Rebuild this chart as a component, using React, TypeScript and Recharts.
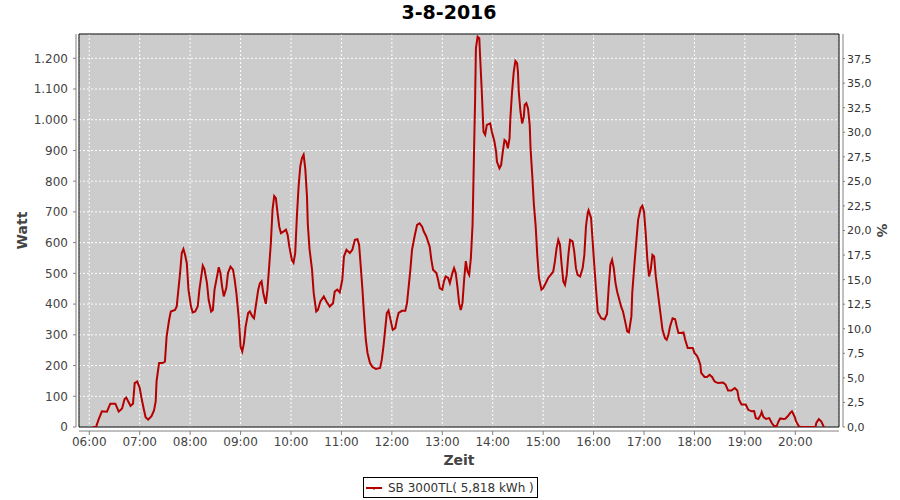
import React from 'react';
import { LineChart, Line, XAxis, YAxis, CartesianGrid, ReferenceArea } from 'recharts';

const title = '3-8-2016';
const seriesName = 'SB 3000TL( 5,818 kWh )';
const xTitle = 'Zeit';
const yLeftTitle = 'Watt';
const yRightTitle = '%';

const hourLabels = ['06:00', '07:00', '08:00', '09:00', '10:00', '11:00', '12:00', '13:00', '14:00', '15:00', '16:00', '17:00', '18:00', '19:00', '20:00'];
const leftTicks = [0, 100, 200, 300, 400, 500, 600, 700, 800, 900, 1000, 1100, 1200];
const rightTicks = [0, 2.5, 5, 7.5, 10, 12.5, 15, 17.5, 20, 22.5, 25, 27.5, 30, 32.5, 35, 37.5];

const times = [
  '06:04', '06:08', '06:11', '06:15', '06:21', '06:25', '06:31', '06:35', '06:39', '06:42', '06:44', '06:49', '06:52', '06:54', '06:57',
  '07:00', '07:02', '07:05', '07:07', '07:10', '07:14', '07:17', '07:19', '07:20', '07:23', '07:27', '07:30', '07:32', '07:35', '07:37',
  '07:42', '07:44', '07:46', '07:48', '07:50', '07:52', '07:54', '07:56', '07:58',
  '08:01', '08:03', '08:06', '08:09', '08:11', '08:13', '08:15', '08:17', '08:20', '08:22', '08:25', '08:27', '08:29', '08:32', '08:34',
  '08:36', '08:38', '08:40', '08:43', '08:45', '08:48', '08:51', '08:53', '08:55', '08:58',
  '09:00', '09:02', '09:04', '09:06', '09:09', '09:11', '09:14', '09:16', '09:18', '09:21', '09:23', '09:25', '09:27', '09:30', '09:32',
  '09:34', '09:36', '09:38', '09:40', '09:42', '09:44', '09:46', '09:48', '09:51', '09:54', '09:56', '09:58',
  '10:01', '10:03', '10:05', '10:07', '10:09', '10:11', '10:13', '10:15', '10:17', '10:19', '10:20', '10:22', '10:25', '10:27', '10:30',
  '10:32', '10:35', '10:39', '10:42', '10:46', '10:50', '10:52', '10:55', '10:58',
  '11:01', '11:03', '11:06', '11:10', '11:13', '11:16', '11:19', '11:21', '11:23', '11:25', '11:27', '11:29', '11:31', '11:34', '11:37',
  '11:41', '11:46', '11:48', '11:50', '11:52', '11:54', '11:56', '11:58',
  '12:01', '12:04', '12:06', '12:08', '12:12', '12:16', '12:18', '12:20', '12:22', '12:24', '12:27', '12:30', '12:33', '12:36', '12:38',
  '12:41', '12:45', '12:47', '12:49', '12:53', '12:55', '12:57',
  '13:00', '13:02', '13:04', '13:07', '13:09', '13:12', '13:14', '13:16', '13:18', '13:20', '13:22', '13:24', '13:26', '13:28', '13:30',
  '13:32', '13:34', '13:36', '13:37', '13:38', '13:39', '13:40', '13:42', '13:44', '13:45', '13:47', '13:48', '13:49', '13:51', '13:53',
  '13:57', '13:59',
  '14:02', '14:04', '14:05', '14:08', '14:10', '14:12', '14:14', '14:16', '14:18', '14:20', '14:21', '14:23', '14:25', '14:27', '14:29',
  '14:30', '14:31', '14:33', '14:35', '14:37', '14:38', '14:40', '14:42', '14:44', '14:45', '14:47', '14:49', '14:51', '14:53', '14:55',
  '14:58',
  '15:00', '15:03', '15:06', '15:09', '15:12', '15:14', '15:16', '15:18', '15:20', '15:22', '15:24', '15:26', '15:28', '15:30', '15:32',
  '15:35', '15:37', '15:39', '15:41', '15:44', '15:47', '15:49', '15:51', '15:53', '15:54', '15:57', '15:59',
  '16:01', '16:03', '16:05', '16:09', '16:13', '16:16', '16:18', '16:20', '16:22', '16:24', '16:26', '16:28', '16:31', '16:33', '16:35',
  '16:38', '16:40', '16:42', '16:45', '16:46', '16:49', '16:51', '16:53', '16:56', '16:58',
  '17:00', '17:02', '17:04', '17:06', '17:08', '17:10', '17:12', '17:14', '17:16', '17:18', '17:20', '17:22', '17:25', '17:27', '17:29',
  '17:31', '17:34', '17:37', '17:39', '17:41', '17:44', '17:47', '17:49', '17:52', '17:55', '17:58',
  '18:00', '18:03', '18:05', '18:07', '18:08', '18:12', '18:15', '18:18', '18:21', '18:24', '18:28', '18:34', '18:37', '18:40', '18:44',
  '18:48', '18:51', '18:53', '18:56',
  '19:01', '19:04', '19:08', '19:11', '19:13', '19:16', '19:19', '19:20', '19:22', '19:25', '19:29', '19:32', '19:35', '19:38', '19:40',
  '19:42', '19:46', '19:48', '19:51', '19:54', '19:56', '19:59',
  '20:01', '20:04', '20:06', '20:24', '20:25', '20:28', '20:31', '20:34',
];

const watts = [
  0, 0, 24, 51, 50, 76, 76, 50, 60, 91, 96, 69, 76, 143, 148,
  127, 96, 56, 32, 24, 35, 54, 83, 148, 208, 208, 213, 295, 349, 376,
  381, 392, 447, 501, 566, 579, 560, 533, 447,
  392, 373, 376, 392, 447, 485, 525, 514, 468, 414, 376, 381, 447, 490, 520,
  501, 457, 425, 452, 501, 522, 512, 479, 436, 349,
  262, 246, 273, 327, 371, 376, 360, 354, 392, 447, 468, 474, 436, 401, 447,
  522, 598, 707, 752, 745, 696, 652, 631, 636, 642, 625, 587,
  544, 535, 566, 685, 782, 847, 875, 886, 840, 750, 660, 580, 512, 436, 376,
  381, 409, 425, 409, 392, 403, 441, 447, 438,
  479, 555, 577, 566, 577, 609, 611, 593, 522, 447, 360, 284, 241, 208, 195,
  189, 192, 219, 262, 316, 371, 379, 354,
  316, 322, 349, 371, 378, 378, 403, 457, 512, 577, 620, 658, 663, 652, 636,
  620, 587, 544, 512, 501, 479, 452,
  447, 474, 490, 485, 468, 501, 517, 501, 457, 403, 381, 403, 480, 540, 506,
  495, 550, 658, 790, 930, 1059, 1233, 1270, 1265, 1205, 1091, 1026, 961, 951, 983,
  988, 961,
  929, 896, 864, 842, 853, 896, 934, 929, 907, 940, 1005, 1091, 1156, 1191, 1184,
  1156, 1091, 1026, 988, 1010, 1048, 1054, 1037, 983, 907, 820, 723, 658, 560, 485,
  447,
  452, 468, 485, 495, 506, 539, 582, 609, 593, 528, 474, 463, 495, 560, 609,
  604, 571, 517, 495, 490, 517, 560, 655, 696, 705, 680, 600,
  520, 445, 374, 354, 350, 368, 455, 528, 544, 517, 470, 441, 410, 390, 376,
  338, 311, 308, 360, 436, 544, 609, 674, 712, 720,
  701, 631, 544, 490, 512, 560, 555, 490, 447, 403, 360, 316, 289, 284, 300,
  327, 354, 351, 327, 306, 306, 308, 284, 257, 257, 257,
  241, 232, 219, 203, 176, 163, 163, 170, 163, 148, 143, 145, 138, 119, 119,
  127, 119, 89, 73,
  73, 56, 51, 52, 29, 26, 40, 49, 33, 26, 29, 13, 2, 4, 18,
  28, 26, 27, 35, 46, 51, 35,
  18, 3, 0, 0, 13, 26, 18, 0,
];

const toMinutes = (s: string) => {
  const [h, m] = s.split(':').map(Number);
  return h * 60 + m;
};

const data = times.map((t, i) => ({ t: toMinutes(t), w: watts[i] }));
const hourTicks = hourLabels.map(toMinutes);
const xDomain: [number, number] = [347.75, 1252];
const leftDomain: [number, number] = [0, 1279];
const rightDomain: [number, number] = [0, 40];

const FONT = "'DejaVu Sans', sans-serif";
const AXIS_GRAY = '#808080';
const LINE_RED = '#b40000';

const fmtLeft = (v: number) => v.toLocaleString('de-DE');
const fmtRight = (v: number) => v.toFixed(1).replace('.', ',');
const fmtHour = (v: number) => {
  const h = Math.floor(v / 60);
  const m = v % 60;
  return `${String(h).padStart(2, '0')}:${String(m).padStart(2, '0')}`;
};

const LeftTick = (props: any) => {
  const { x, y, payload } = props;
  return (
    <g>
      <line x1={x - 6} x2={x - 3} y1={y} y2={y} stroke={AXIS_GRAY} />
      <text x={x - 11} y={y} dy="0.36em" textAnchor="end" fontSize={12} fill="#444" fontFamily={FONT}>
        {fmtLeft(payload.value)}
      </text>
    </g>
  );
};

const RightTick = (props: any) => {
  const { x, y, payload } = props;
  return (
    <g>
      <line x1={x + 4} x2={x + 6} y1={y} y2={y} stroke={AXIS_GRAY} />
      <text x={x + 8} y={y} dy="0.36em" textAnchor="start" fontSize={11} fill="#333" fontFamily={FONT}>
        {fmtRight(payload.value)}
      </text>
    </g>
  );
};

const BottomTick = (props: any) => {
  const { x, y, payload } = props;
  return (
    <g>
      <line x1={x} x2={x} y1={y + 4} y2={y + 8} stroke={AXIS_GRAY} />
      <text x={x} y={y + 19} textAnchor="middle" fontSize={12} fill="#444" fontFamily={FONT}>
        {fmtHour(payload.value)}
      </text>
    </g>
  );
};

const LeftLabel = (props: any) => {
  const vb = props.viewBox || { x: 0, y: 34, width: 79, height: 393 };
  const cx = vb.x + 22;
  const cy = vb.y + vb.height / 2;
  return (
    <text x={cx} y={cy} transform={`rotate(-90 ${cx} ${cy})`} textAnchor="middle" dy="0.36em" fontSize={14} fontWeight="bold" fill="#444" fontFamily={FONT}>
      {yLeftTitle}
    </text>
  );
};

const RightLabel = (props: any) => {
  const vb = props.viewBox || { x: 839, y: 34, width: 61, height: 393 };
  const cx = vb.x + 43;
  const cy = vb.y + vb.height / 2;
  return (
    <text x={cx} y={cy} transform={`rotate(90 ${cx} ${cy})`} textAnchor="middle" dy="0.36em" fontSize={14} fontWeight="bold" fill="#444" fontFamily={FONT}>
      {yRightTitle}
    </text>
  );
};

const BottomLabel = (props: any) => {
  const vb = props.viewBox || { x: 79, y: 427, width: 760, height: 73 };
  const cx = vb.x + vb.width / 2;
  return (
    <text x={cx} y={vb.y + 38} textAnchor="middle" fontSize={14} fontWeight="bold" fill="#444" fontFamily={FONT}>
      {xTitle}
    </text>
  );
};

export default function App() {
  return (
    <div style={{ position: 'absolute', left: 0, top: 0, width: 900, height: 500, background: '#fff', fontFamily: FONT }}>
      <svg width={900} height={30} style={{ position: 'absolute', left: 0, top: 0 }}>
        <text x={449} y={18.5} textAnchor="middle" fontSize={19} fontWeight="bold" fill="#000" fontFamily={FONT}>
          {title}
        </text>
      </svg>
      <LineChart width={900} height={500} data={data} margin={{ top: 34, right: 0, bottom: 0, left: 0 }}>
        <CartesianGrid yAxisId="left" stroke="#ffffff" strokeDasharray="2 2" fill="#cccccc" fillOpacity={1} />
        <XAxis
          type="number"
          dataKey="t"
          domain={xDomain}
          ticks={hourTicks}
          interval={0}
          allowDataOverflow
          height={73}
          tickSize={0}
          tickMargin={0}
          axisLine={{ stroke: AXIS_GRAY, transform: 'translate(0,4)' }}
          tick={BottomTick}
          label={{ content: BottomLabel }}
        />
        <YAxis
          yAxisId="left"
          type="number"
          domain={leftDomain}
          ticks={leftTicks}
          interval={0}
          allowDataOverflow
          width={79}
          tickSize={0}
          tickMargin={0}
          axisLine={{ stroke: AXIS_GRAY, transform: 'translate(-3,0)' }}
          tick={LeftTick}
          label={{ content: LeftLabel }}
        />
        <YAxis
          yAxisId="right"
          orientation="right"
          type="number"
          domain={rightDomain}
          ticks={rightTicks}
          interval={0}
          allowDataOverflow
          width={61}
          tickSize={0}
          tickMargin={0}
          axisLine={{ stroke: AXIS_GRAY, transform: 'translate(4,0)' }}
          tick={RightTick}
          label={{ content: RightLabel }}
        />
        <ReferenceArea
          yAxisId="left"
          x1={xDomain[0]}
          x2={xDomain[1]}
          y1={leftDomain[0]}
          y2={leftDomain[1]}
          fill="none"
          stroke="#000"
          strokeWidth={1}
          ifOverflow="visible"
        />
        <Line
          yAxisId="left"
          type="linear"
          dataKey="w"
          stroke={LINE_RED}
          strokeWidth={2}
          dot={false}
          activeDot={false}
          isAnimationActive={false}
        />
      </LineChart>
      <div
        style={{
          position: 'absolute',
          left: 363,
          top: 477,
          width: 175,
          height: 21,
          boxSizing: 'border-box',
          border: '1px solid #000',
          display: 'flex',
          alignItems: 'center',
          paddingLeft: 2,
          fontFamily: FONT,
          fontSize: 12,
          color: '#333',
          whiteSpace: 'nowrap',
        }}
      >
        <svg width={18} height={10} style={{ marginRight: 4 }}>
          <line x1={0} x2={16} y1={5} y2={5} stroke={LINE_RED} strokeWidth={2} />
          <line x1={8} x2={8} y1={5} y2={7} stroke={LINE_RED} strokeWidth={1} />
        </svg>
        <span>{seriesName}</span>
      </div>
    </div>
  );
}
